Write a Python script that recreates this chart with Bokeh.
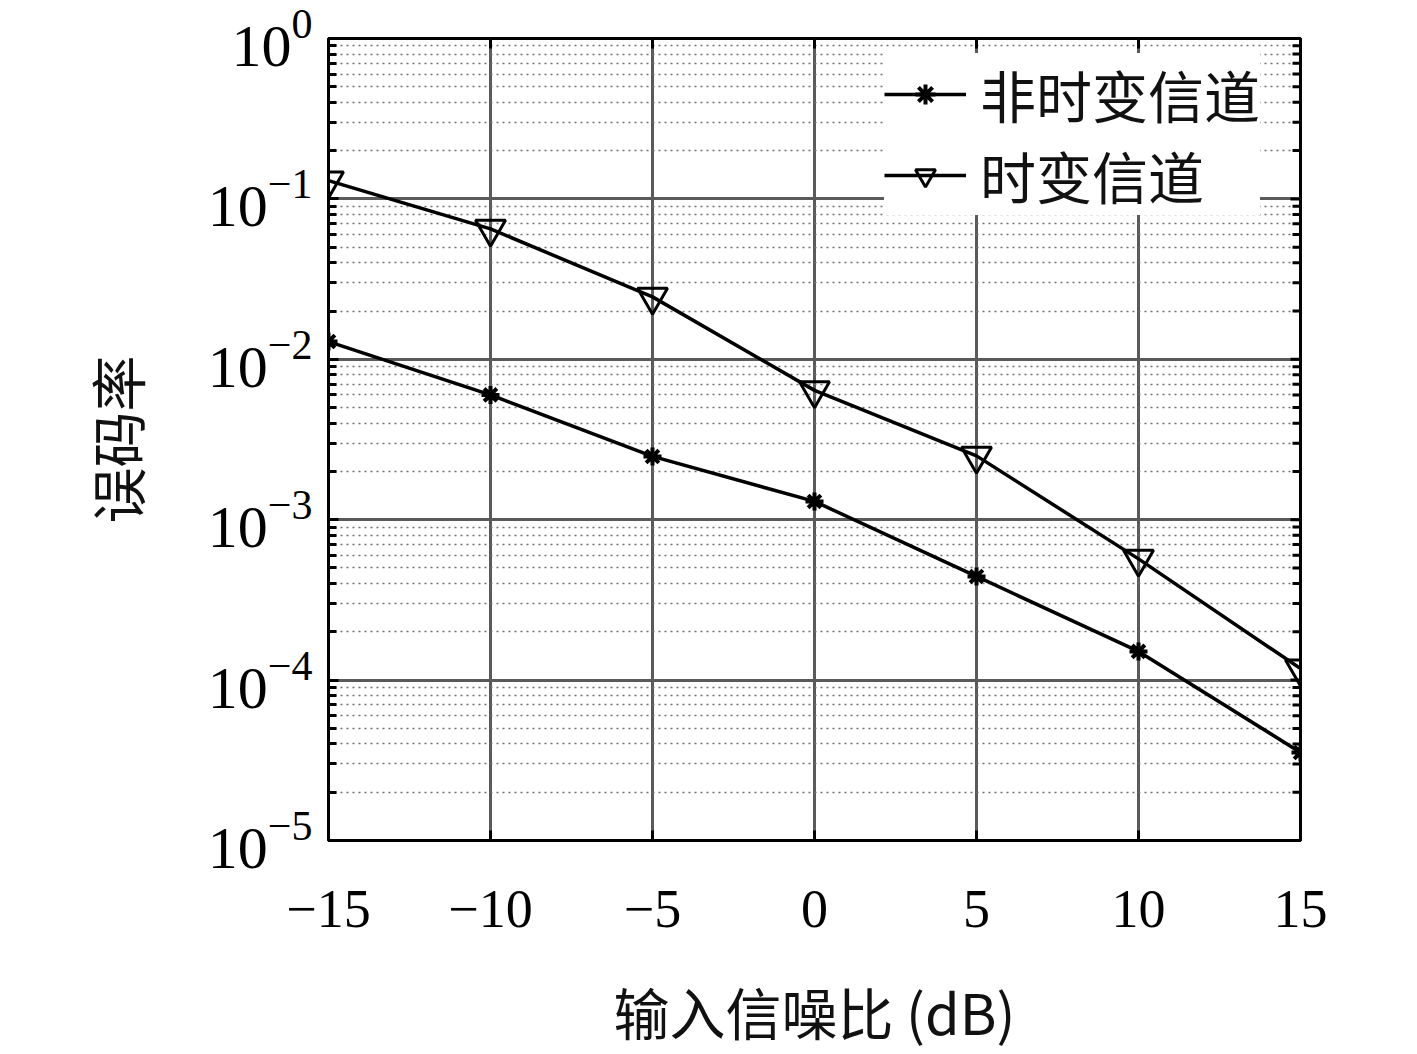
from bokeh.plotting import figure
from bokeh.models import FixedTicker, Legend, LegendItem
from bokeh.embed import file_html
from bokeh.resources import INLINE

# ---- data ----
snr_db = [-15, -10, -5, 0, 5, 10, 15]
ber_static = [0.0129, 0.0060, 0.00248, 0.0013, 0.000443, 0.000151, 0.0000354]
ber_timevarying = [0.13, 0.065, 0.0245, 0.0064, 0.0025, 0.00057, 0.000118]
x_ticks = [-15, -10, -5, 0, 5, 10, 15]
x_tick_labels = ["\u221215", "\u221210", "\u22125", "0", "5", "10", "15"]
y_decades = [-5, -4, -3, -2, -1, 0]
legend_labels = ["非时变信道", "时变信道"]
x_label = "输入信噪比 (dB)"
y_label = "误码率"

BG = "white"
SERIF = "Liberation Serif"
CJK = "Noto Sans CJK SC"

y_major = [10.0 ** d for d in y_decades]
y_minor = [m * 10.0 ** d for d in y_decades[:-1] for m in range(2, 10)]
yticker = FixedTicker(ticks=y_major, minor_ticks=y_minor)
xticker = FixedTicker(ticks=x_ticks)
x_lo, x_hi = x_ticks[0], x_ticks[-1]
y_lo, y_hi = y_major[0], y_major[-1]

p = figure(frame_width=972, frame_height=802, y_axis_type="log",
           x_range=(x_lo, x_hi), y_range=(y_lo, y_hi),
           output_backend="svg", toolbar_location=None,
           min_border_left=328, min_border_right=110,
           min_border_top=38, min_border_bottom=200,
           background_fill_color=BG, border_fill_color=BG)
p.outline_line_color = "black"
p.outline_line_width = 3

# axes
p.xaxis.ticker = xticker
p.xaxis.major_label_overrides = {t: l for t, l in zip(x_ticks, x_tick_labels)}
p.yaxis.ticker = yticker
for ax in (p.xaxis[0], p.yaxis[0]):
    ax.axis_line_width = 3
    ax.axis_line_color = "black"
    ax.major_tick_in = 10
    ax.major_tick_out = 0
    ax.minor_tick_in = 8
    ax.minor_tick_out = 0
    ax.major_tick_line_width = 3
    ax.minor_tick_line_width = 3
    ax.major_label_text_font = SERIF
    ax.major_label_text_color = "black"
    ax.axis_label_text_font = CJK
    ax.axis_label_text_font_size = "56px"
    ax.axis_label_text_font_style = "normal"
    ax.axis_label_text_color = "#111111"
p.xaxis.major_label_text_font_size = "54px"
p.yaxis.major_label_text_font_size = "60px"
p.xaxis.major_label_standoff = 50
p.xaxis.axis_label = x_label
p.xaxis.axis_label_standoff = 40
p.yaxis.major_label_standoff = 16
p.yaxis.axis_label = y_label
p.yaxis.axis_label_standoff = 49

# grids
p.xgrid.ticker = xticker
p.ygrid.ticker = yticker
for g in (p.xgrid[0], p.ygrid[0]):
    g.grid_line_color = "#5a5a5a"
    g.grid_line_width = 3
p.ygrid.minor_grid_line_color = "#707070"
p.ygrid.minor_grid_line_width = 1.6
p.ygrid.minor_grid_line_dash = "2 4"

# inward ticks on the right and top edges (from the tick arrays)
p.scatter([x_hi] * len(y_minor), y_minor, marker="dash", size=16,
          line_color="black", line_width=3)
p.scatter([x_hi] * len(y_major), y_major, marker="dash", size=20,
          line_color="black", line_width=3)
p.scatter(x_ticks, [y_hi] * len(x_ticks), marker="dash", angle=1.5708,
          size=20, line_color="black", line_width=3)

# series
l1 = p.line(snr_db, ber_static, line_color="black", line_width=3.5)
m1 = p.scatter(snr_db, ber_static, marker="asterisk", size=18,
               line_color="black", line_width=4)
l2 = p.line(snr_db, ber_timevarying, line_color="black", line_width=3.5)
m2 = p.scatter(snr_db, ber_timevarying, marker="inverted_triangle", size=30,
               line_color="black", line_width=3, fill_color=None)

legend = Legend(items=[LegendItem(label=legend_labels[0], renderers=[l1, m1]),
                       LegendItem(label=legend_labels[1], renderers=[l2, m2])],
                location=(556, 625))
legend.label_text_font = CJK
legend.label_text_font_size = "56px"
legend.label_text_color = "#111111"
legend.glyph_width = 82
legend.glyph_height = 50
legend.label_standoff = 14
legend.spacing = -15
legend.padding = 4
legend.margin = 0
legend.border_line_color = None
legend.background_fill_color = BG
legend.background_fill_alpha = 1.0
p.add_layout(legend)

open("out.html", "w").write(file_html(p, INLINE))
